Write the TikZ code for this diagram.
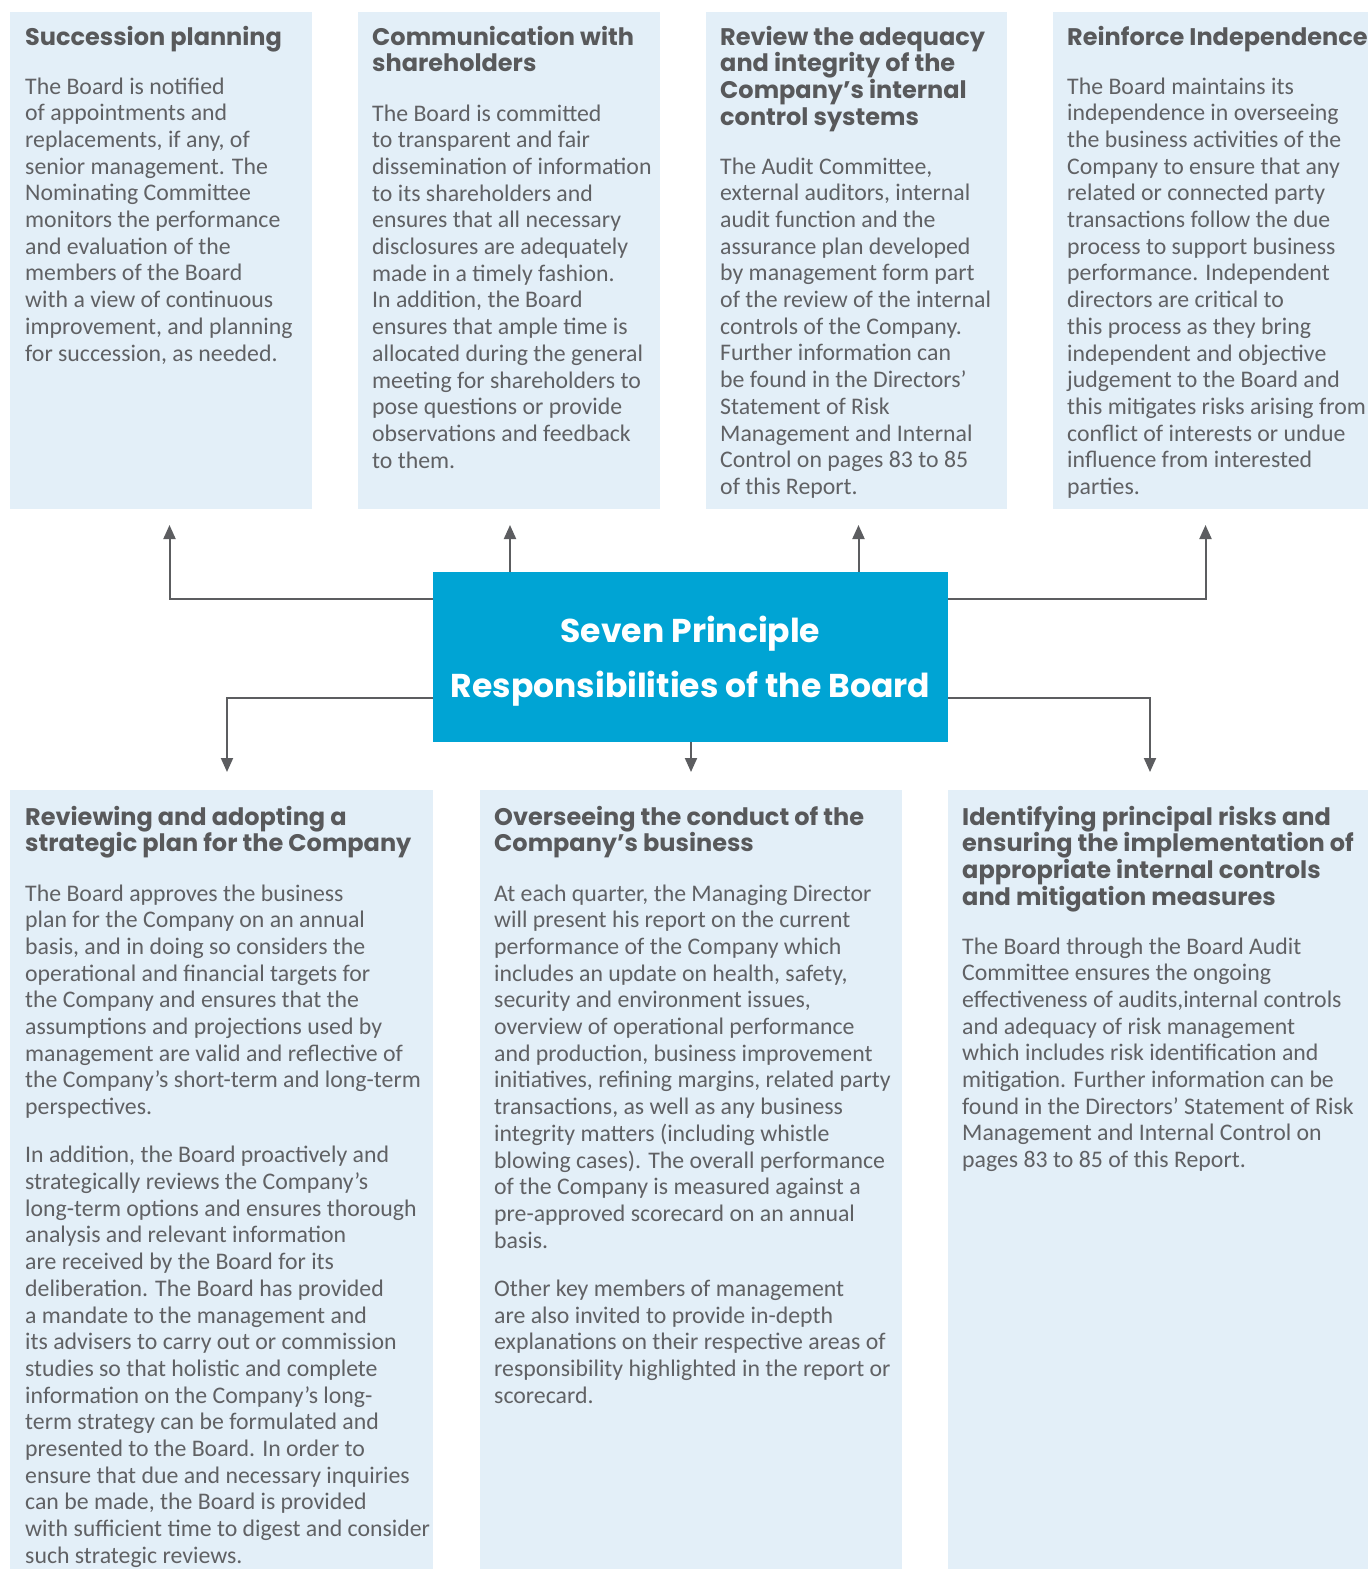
\documentclass[tikz,border=0pt]{standalone}
\usepackage{fontspec}
\setmainfont{Carlito}
\newfontfamily\headfont{Poppins}
\usetikzlibrary{positioning,arrows.meta}
\definecolor{ink}{RGB}{88,89,91}
\definecolor{softink}{RGB}{96,97,100}
\definecolor{wash}{RGB}{227,239,248}
\definecolor{hubblue}{RGB}{0,164,212}
\definecolor{wire}{RGB}{92,93,96}
\newcommand{\lines}[1]{\begin{minipage}[t]{460pt}\raggedright #1\end{minipage}}

\begin{document}
\begin{tikzpicture}[x=1pt, y=-1pt,
		panel/.style={fill=wash, inner sep=0pt, anchor=north west},
		head/.style={inner sep=0pt, anchor=base west, text=ink,
			font=\headfont\bfseries\fontsize{24}{26.8}\selectfont},
		body/.style={inner sep=0pt, anchor=base west, text=softink,
			font=\fontsize{23.8}{26.7}\selectfont},
		arr/.style={-{Triangle[length=14pt, width=12pt]}, line width=2pt, wire}]
	\useasboundingbox (0,0) rectangle (1368,1569);
	% top row
	\node[panel, minimum width=302pt, minimum height=497pt] (succ) at (10,12) {};
	\node[panel, minimum width=302pt, minimum height=497pt, right=45pt of succ] (comm) {};
	\node[panel, minimum width=301pt, minimum height=497pt, right=46pt of comm] (rev) {};
	\node[panel, minimum width=316pt, minimum height=497pt, right=46pt of rev] (ind) {};
	% bottom row
	\node[panel, minimum width=423pt, minimum height=779pt] (strat) at (10,790) {};
	\node[panel, minimum width=422pt, minimum height=779pt, right=46pt of strat] (over) {};
	\node[panel, minimum width=421pt, minimum height=779pt, right=46pt of over] (risk) {};

	\node[head] (succ-h) at (25,45) {\lines{Succession planning}};
	\node[body] (succ-b) at (25,94) {\lines{The Board is notified\\
		of appointments and\\ replacements, if any, of\\ senior management. The\\
		Nominating Committee\\ monitors the performance\\ and evaluation of the\\
		members of the Board\\ with a view of continuous\\ improvement, and planning\\
		for succession, as needed.}};

	\node[head] (comm-h) at (372,45) {\lines{Communication with\\ shareholders}};
	\node[body] (comm-b) at (372,121) {\lines{The Board is committed\\
		to transparent and fair\\ dissemination of information\\ to its shareholders and\\
		ensures that all necessary\\ disclosures are adequately\\ made in a timely fashion.\\
		In addition, the Board\\ ensures that ample time is\\ allocated during the general\\
		meeting for shareholders to\\ pose questions or provide\\ observations and feedback\\
		to them.}};

	\node[head] (rev-h) at (720,45) {\lines{Review the adequacy\\ and integrity of the\\
		Company’s internal\\ control systems}};
	\node[body] (rev-b) at (720,174) {\lines{The Audit Committee,\\
		external auditors, internal\\ audit function and the\\ assurance plan developed\\
		by management form part\\ of the review of the internal\\ controls of the Company.\\
		Further information can\\ be found in the Directors'\\ Statement of Risk\\
		Management and Internal\\ Control on pages 83 to 85\\ of this Report.}};

	\node[head] (ind-h) at (1067,45) {\lines{Reinforce Independence}};
	\node[body] (ind-b) at (1067,94) {\lines{The Board maintains its\\
		independence in overseeing\\ the business activities of the\\ Company to ensure that any\\
		related or connected party\\ transactions follow the due\\ process to support business\\
		performance. Independent\\ directors are critical to\\ this process as they bring\\
		independent and objective\\ judgement to the Board and\\ this mitigates risks arising from\\
		conflict of interests or undue\\ influence from interested\\ parties.}};

	\node[head] (strat-h) at (25,825) {\lines{Reviewing and adopting a\\ strategic plan for the Company}};
	\node[body] (strat-b) at (25,901) {\lines{The Board approves the business\\
		plan for the Company on an annual\\ basis, and in doing so considers the\\
		operational and financial targets for\\ the Company and ensures that the\\
		assumptions and projections used by\\ management are valid and reflective of\\
		the Company's short-term and long-term\\ perspectives.\\[21.5pt]
		In addition, the Board proactively and\\ strategically reviews the Company's\\
		long-term options and ensures thorough\\ analysis and relevant information\\
		are received by the Board for its\\ deliberation. The Board has provided\\
		a mandate to the management and\\ its advisers to carry out or commission\\
		studies so that holistic and complete\\ information on the Company's long-\\
		term strategy can be formulated and\\ presented to the Board. In order to\\
		ensure that due and necessary inquiries\\ can be made, the Board is provided\\
		with sufficient time to digest and consider\\ such strategic reviews.}};

	\node[head] (over-h) at (494,825) {\lines{Overseeing the conduct of the\\ Company’s business}};
	\node[body] (over-b) at (494,901) {\lines{At each quarter, the Managing Director\\
		will present his report on the current\\ performance of the Company which\\
		includes an update on health, safety,\\ security and environment issues,\\
		overview of operational performance\\ and production, business improvement\\
		initiatives, refining margins, related party\\ transactions, as well as any business\\
		integrity matters (including whistle\\ blowing cases). The overall performance\\
		of the Company is measured against a\\ pre-approved scorecard on an annual\\
		basis.\\[21.5pt]
		Other key members of management\\ are also invited to provide in-depth\\
		explanations on their respective areas of\\ responsibility highlighted in the report or\\
		scorecard.}};

	\node[head] (risk-h) at (962,825) {\lines{Identifying principal risks and\\
		ensuring the implementation of\\ appropriate internal controls\\ and mitigation measures}};
	\node[body] (risk-b) at (962,954) {\lines{The Board through the Board Audit\\
		Committee ensures the ongoing\\ effectiveness of audits,internal controls\\
		and adequacy of risk management\\ which includes risk identification and\\
		mitigation. Further information can be\\ found in the Directors' Statement of Risk\\
		Management and Internal Control on\\ pages 83 to 85 of this Report.}};

	% centre
	\node[fill=hubblue, minimum width=515pt, minimum height=170pt, text=white,
		align=center, font=\headfont\bfseries\fontsize{33}{54.5}\selectfont]
		(board) at (690.5,657) {\rule{0pt}{35pt}Seven Principle\\ Responsibilities of the Board};

	\coordinate (up) at (0,599);
	\coordinate (down) at (0,698);
	\coordinate (succ-in) at (169.5,525);
	\coordinate (comm-in) at (510,525);
	\coordinate (rev-in) at (858.5,525);
	\coordinate (ind-in) at (1205.5,525);
	\coordinate (strat-in) at (227,772);
	\coordinate (over-in) at (691,772);
	\coordinate (risk-in) at (1150,772);
	\draw[arr] (board.west |- up) -| (succ-in);
	\draw[arr] (board.north -| comm-in) -- (comm-in);
	\draw[arr] (board.north -| rev-in) -- (rev-in);
	\draw[arr] (board.east |- up) -| (ind-in);
	\draw[arr] (board.west |- down) -| (strat-in);
	\draw[arr] (board.south -| over-in) -- (over-in);
	\draw[arr] (board.east |- down) -| (risk-in);
\end{tikzpicture}
\end{document}
